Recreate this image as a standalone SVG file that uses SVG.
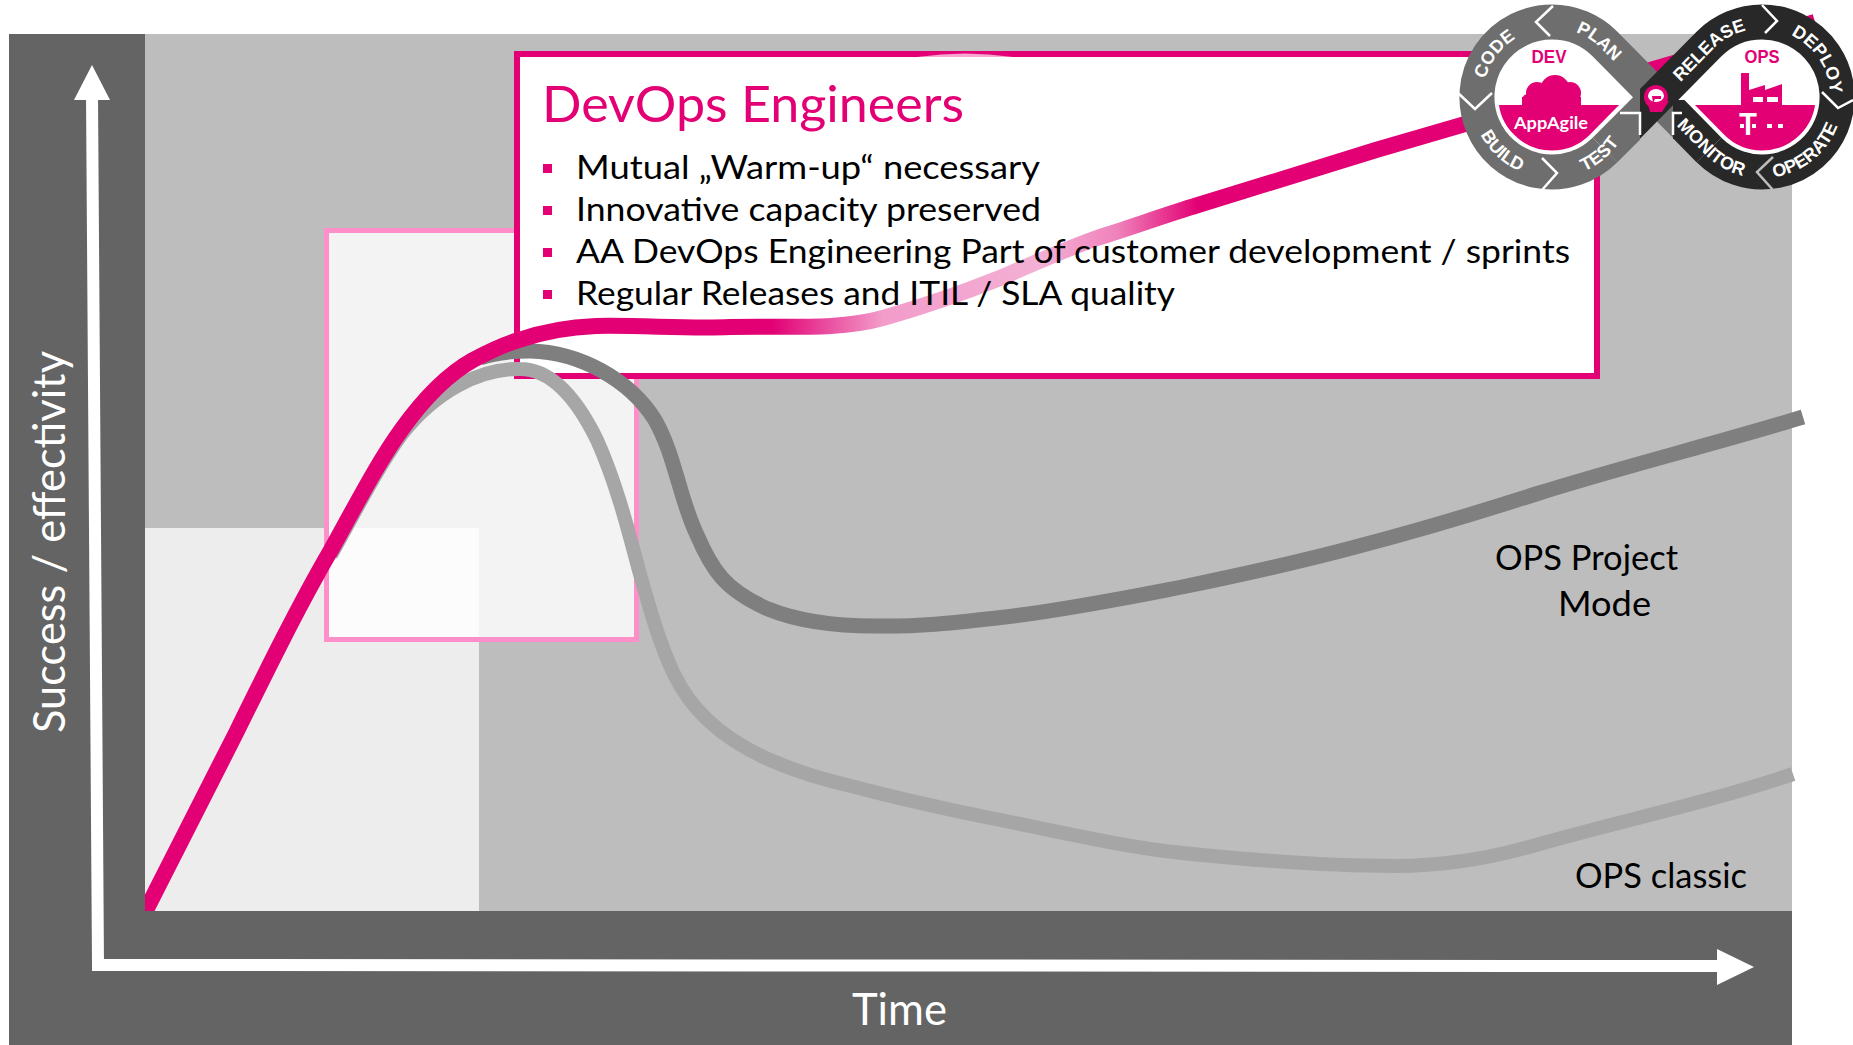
<svg xmlns="http://www.w3.org/2000/svg" width="1853" height="1045" viewBox="0 0 1853 1045">
<style>
text{font-family:Lato,"Noto Sans",sans-serif}
.lab{font-size:34px;fill:#000}
.bul{font-size:33px;fill:#000}
.ax{font-size:44px;fill:#fff}
.c{fill:none;stroke-linejoin:round}
.lg{font-family:"Liberation Sans",Arial,sans-serif;font-size:18px;font-weight:700;fill:#fff}
.hd{font-family:"Liberation Sans",Arial,sans-serif;font-size:18px;font-weight:700;fill:#e20074;text-anchor:middle}
.sep{fill:none;stroke:#fff;stroke-width:2.5}
.p{fill:#e20074}
.w{fill:#fff}
</style>
<defs>
<linearGradient id="fade" gradientUnits="userSpaceOnUse" x1="772" y1="0" x2="1198" y2="0">
<stop offset="0" stop-color="#e20074"/><stop offset=".26" stop-color="#f29cca"/><stop offset=".63" stop-color="#f4b0d5"/><stop offset=".81" stop-color="#ef82bb"/><stop offset="1" stop-color="#e20074"/>
</linearGradient>
<clipPath id="plot"><rect x="145" y="0" width="1708" height="911"/></clipPath>
<clipPath id="tdL"><path d="M1657,97 L1605,44 A75,75 0 1 0 1605,150 Z"/></clipPath>
<clipPath id="tdR"><path d="M1657,97 L1709,44 A75,75 0 1 1 1709,150 Z"/></clipPath>
<clipPath id="low"><rect x="1450" y="105" width="403" height="90"/></clipPath>
<clipPath id="xL"><rect x="1400" y="0" width="240" height="200"/></clipPath>
<clipPath id="xM"><rect x="1400" y="0" width="273" height="200"/></clipPath>
<clipPath id="xR"><rect x="1640" y="0" width="213" height="200"/></clipPath>
<clipPath id="xT"><rect x="1673" y="100" width="180" height="100"/></clipPath>
<path id="tCode" d="M1485.4,79.1 A69,69 0 0 1 1575.6,32.2"/>
<path id="tPlan" d="M1569.9,30.4 A69,69 0 0 1 1600.8,48.2 L1650,97"/>
<path id="tBuild" d="M1476,124.7 A81,81 0 0 0 1579.7,173"/>
<path id="tTest" d="M1545,177.7 A81,81 0 0 0 1622,137.5"/>
<path id="tRel" d="M1670,93 L1713.6,48.6 A68.5,68.5 0 0 1 1762,28.5"/>
<path id="tDep" d="M1791,35 A68.5,68.5 0 0 1 1830,103"/>
<path id="tOpe" d="M1769,177.7 A81,81 0 0 0 1843,97"/>
<path id="tMon" d="M1670,119 L1704.7,154.3 A81,81 0 0 0 1762,178"/>
</defs>

<g id="background">
<rect x="9" y="34" width="1783" height="1011" fill="#646464"/>
<rect x="145" y="34" width="1647" height="877" fill="#bdbdbd"/>
<rect x="145" y="528" width="334" height="383" fill="#ededed"/>
</g>

<g id="phase-box">
<rect x="326.500" y="230.500" width="310" height="409" fill="#fff" fill-opacity=".82" stroke="#ff8fc8" stroke-width="5"/>
</g>

<g id="axes">
<path d="M92,95 L98,965 L1720,966" fill="none" stroke="#fff" stroke-width="12"/>
<polygon points="92,65 110,100 74,100" fill="#fff"/>
<polygon points="1754,967 1717,949 1717,985" fill="#fff"/>
<text class="ax" transform="translate(65,733) rotate(-90)" textLength="382" lengthAdjust="spacingAndGlyphs">Success / effectivity</text>
<text class="ax" x="852" y="1025" textLength="95" lengthAdjust="spacingAndGlyphs">Time</text>
</g>

<g id="devops-box">
<rect x="517" y="54" width="1080" height="322" fill="#fff" stroke="#e20074" stroke-width="6"/>
<path d="M917,57 Q965,50 1013,57 Z" fill="#f6a6d0"/>
</g>

<g id="connectors" clip-path="url(#plot)">
<path id="ops-classic" class="c" stroke="#a6a6a6" stroke-width="14" d="M331,555 C356,510 378,467 402,434 C435,392 480,368 520,369 C550,369 575,395 597,440 C615,480 627,525 638,567 C650,610 660,645 674,674 C690,708 720,738 770,760 C800,773 825,780 851,786 C900,799 950,810 1005,821 C1065,833 1125,847 1182,853 C1250,860 1330,866 1395,866 C1450,866 1495,857 1536,845 C1625,820 1710,802 1793,774"/>
<path id="ops-project" class="c" stroke="#7f7f7f" stroke-width="15" d="M480,358 C497,352 512,351 530,351 C580,352 630,380 655,420 C675,455 680,500 697,535 C712,570 725,590 768,609 C800,622 840,626 875,626 C920,627 960,622 1005,617 C1065,610 1125,598 1182,587 C1240,575 1300,562 1359,546 C1420,530 1480,512 1536,494 C1625,466 1715,444 1803,417"/>
<path id="devops" class="c" stroke="url(#fade)" stroke-width="16" d="M140,922 L236,733 C268,668 300,603 331,550 C356,505 378,462 402,429 C425,397 448,374 473,360 C490,351 505,344 519,340 C545,331 570,327 596,326 C640,325 690,329 730,327 C790,326 840,330 883,318 C925,306 960,294 1000,278 C1035,263 1065,249 1100,237 C1135,226 1165,215 1198,205 C1260,186 1320,167 1376,150 L1815,22"/>
</g>

<g id="devops-text">
<text x="542" y="122" font-size="50" fill="#e20074" textLength="422" lengthAdjust="spacingAndGlyphs">DevOps Engineers</text>
<rect class="p" x="543" y="164" width="9" height="9"/><rect class="p" x="543" y="206" width="9" height="9"/><rect class="p" x="543" y="248" width="9" height="9"/><rect class="p" x="543" y="290" width="9" height="9"/>
<text class="bul" x="576" y="179" textLength="464" lengthAdjust="spacingAndGlyphs">Mutual „Warm-up“ necessary</text>
<text class="bul" x="576" y="221" textLength="465" lengthAdjust="spacingAndGlyphs">Innovative capacity preserved</text>
<text class="bul" x="576" y="263" textLength="994" lengthAdjust="spacingAndGlyphs">AA DevOps Engineering Part of customer development / sprints</text>
<text class="bul" x="576" y="305" textLength="599" lengthAdjust="spacingAndGlyphs">Regular Releases and ITIL / SLA quality</text>
</g>

<g id="label-ops-project">
<text class="lab" x="1495" y="570" textLength="183" lengthAdjust="spacingAndGlyphs">OPS Project</text>
<text class="lab" x="1558" y="616" textLength="93" lengthAdjust="spacingAndGlyphs">Mode</text>
</g>
<g id="label-ops-classic">
<text class="lab" x="1575" y="888" textLength="172" lengthAdjust="spacingAndGlyphs">OPS classic</text>
</g>

<g id="logo">
<path d="M1657,97 L1605,44 A75,75 0 1 0 1605,150 Z" fill="#fff"/>
<path d="M1657,97 L1709,44 A75,75 0 1 1 1709,150 Z" fill="#fff"/>
<g clip-path="url(#low)">
<path class="p" d="M1657,97 L1605,44 A75,75 0 1 0 1605,150 Z"/>
<path class="p" d="M1657,97 L1709,44 A75,75 0 1 1 1709,150 Z"/>
</g>
<g fill="none" stroke="#fff" stroke-width="43">
<path clip-path="url(#tdL)" d="M1657,97 L1605,44 A75,75 0 1 0 1605,150 Z"/>
<path clip-path="url(#tdR)" d="M1657,97 L1709,44 A75,75 0 1 1 1709,150 Z"/>
</g>
<g class="p">
<circle cx="1555" cy="90" r="15"/><circle cx="1537" cy="93" r="11"/><circle cx="1570" cy="93" r="11"/><circle cx="1528" cy="100" r="6"/><circle cx="1575" cy="100" r="6"/><rect x="1522" y="97" width="59" height="10"/>
<path d="M1741,73 H1749 V90 L1765,85 V90 L1782,84 V107 H1741 Z"/>
</g>
<rect class="w" x="1753" y="97" width="10" height="5"/><rect class="w" x="1767" y="97" width="11" height="5"/>
<text class="hd" x="1549" y="63" textLength="35" lengthAdjust="spacingAndGlyphs">DEV</text>
<text class="hd" x="1762" y="63" textLength="35" lengthAdjust="spacingAndGlyphs">OPS</text>
<text x="1551" y="129" text-anchor="middle" font-family="Liberation Sans, Arial, sans-serif" font-weight="700" font-size="17.500" fill="#fff" textLength="74" lengthAdjust="spacingAndGlyphs">AppAgile</text>
<text x="1748" y="135" text-anchor="middle" font-family="Liberation Serif, serif" font-weight="700" font-size="30" fill="#fff">T</text>
<rect class="w" x="1740" y="124" width="4" height="4"/><rect class="w" x="1752" y="124" width="4" height="4"/><rect class="w" x="1767" y="124" width="5" height="4"/><rect class="w" x="1778" y="124" width="5" height="4"/>
<g fill="none" stroke-width="35">
<path stroke="#6e6e6e" clip-path="url(#xM)" d="M1690,130 L1605,44 A75,75 0 0 0 1552,22"/>
<path stroke="#6e6e6e" d="M1552,22 A75,75 0 1 0 1605,150"/>
<path stroke="#6e6e6e" clip-path="url(#xL)" d="M1605,150 L1660,95"/>
<path stroke="#282828" clip-path="url(#xR)" d="M1620,134 L1709,44 A75,75 0 0 1 1762,22"/>
<path stroke="#282828" d="M1762,22 A75,75 0 1 1 1709,150"/>
<path stroke="#282828" clip-path="url(#xT)" d="M1709,150 L1655,95"/>
</g>
<path class="sep" d="M1553,6 L1536,22 L1550,36"/>
<path class="sep" d="M1458,93 L1475,109 L1492,93"/>
<path class="sep" d="M1542,158 L1557,173 L1542,190"/>
<path class="sep" d="M1620,113 H1640 V135"/>
<path class="sep" d="M1762,5 L1777,21 L1765,33"/>
<path class="sep" d="M1822,92 L1838,108 L1853,100"/>
<path class="sep" style="stroke:#bdbdbd" d="M1773,157 L1757,172 L1773,190"/>
<path class="sep" d="M1673,135 V113 H1682"/>
<g>
<circle class="p" cx="1656" cy="97" r="12"/>
<path class="p" d="M1648,104 L1650,112 H1662 L1669,101 Z"/>
<path class="w" d="M1648,96 A8,7 0 0 1 1664,96 A8,6 0 0 1 1648,96 Z"/>
<path class="p" d="M1652,96 H1661 V99 H1655 L1653,103 Z"/>
</g>
<text class="lg"><textPath href="#tCode">CODE</textPath></text>
<text class="lg"><textPath href="#tPlan" startOffset="6">PLAN</textPath></text>
<text class="lg"><textPath href="#tBuild" startOffset="11">BUILD</textPath></text>
<text class="lg"><textPath href="#tTest" startOffset="40">TEST</textPath></text>
<text class="lg"><textPath href="#tRel" startOffset="15">RELEASE</textPath></text>
<text class="lg"><textPath href="#tDep">DEPLOY</textPath></text>
<text class="lg"><textPath href="#tOpe" startOffset="5">OPERATE</textPath></text>
<text class="lg"><textPath href="#tMon" startOffset="9">MONITOR</textPath></text>
</g>
</svg>
